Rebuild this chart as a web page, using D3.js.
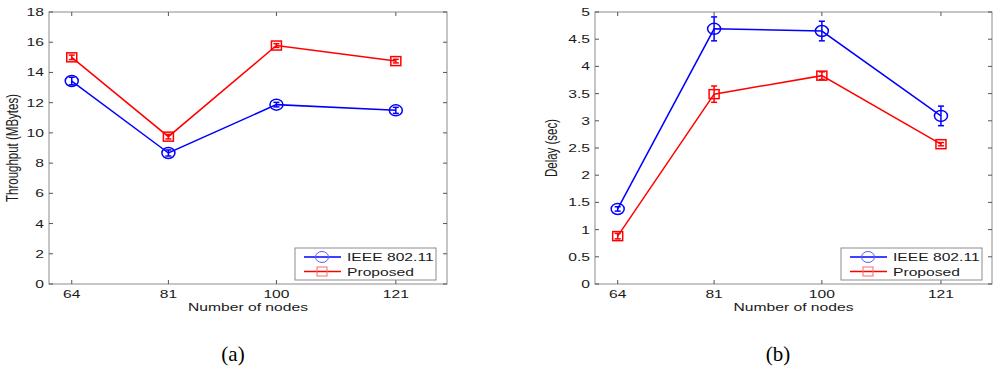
<!DOCTYPE html>
<html>
<head>
<meta charset="utf-8">
<script src="https://cdn.jsdelivr.net/npm/d3@7"></script>
<style>
  body { margin: 0; background: #fff; }
  svg text { font-family: "Liberation Sans", Arial, sans-serif; }
</style>
</head>
<body>
<div id="chart"></div>
<script>
// data
var nodes = [64, 81, 100, 121];
var seriesNames = ["IEEE 802.11", "Proposed"];

var throughputIEEE = [13.43, 8.67, 11.87, 11.49];
var throughputIEEEErr = [0.25, 0.2, 0.15, 0.2];
var throughputProp = [15.0, 9.75, 15.78, 14.75];
var throughputPropErr = [0.15, 0.15, 0.12, 0.12];

var delayIEEE = [1.38, 4.69, 4.65, 3.09];
var delayIEEEErr = [0.04, 0.22, 0.18, 0.18];
var delayProp = [0.88, 3.49, 3.83, 2.57];
var delayPropErr = [0.05, 0.15, 0.07, 0.03];

var throughputTicks = [0, 2, 4, 6, 8, 10, 12, 14, 16, 18];
var delayTicks = [0, 0.5, 1, 1.5, 2, 2.5, 3, 3.5, 4, 4.5, 5];

// the original figure is stretched sideways a bit
var stretch = 1.36;
var fontSize = 11.5;

var svg = d3.select("#chart").append("svg")
  .attr("width", 1000)
  .attr("height", 367);

function addText(g, x, y, str, anchor, rotate) {
  var tr = "translate(" + x + "," + y + ") scale(" + stretch + ",1)";
  if (rotate) tr += " rotate(-90)";
  return g.append("text")
    .attr("transform", tr)
    .attr("text-anchor", anchor || "start")
    .attr("font-size", fontSize)
    .attr("fill", "#1a1a1a")
    .text(str);
}

function drawPanel(opt) {
  var x = d3.scaleLinear().domain([60, 130]).range([opt.left, opt.right]);
  var y = d3.scaleLinear().domain(opt.yDomain).range([284, 12]);
  var g = svg.append("g");

  // frame
  g.append("rect")
    .attr("x", opt.left).attr("y", 12)
    .attr("width", opt.right - opt.left).attr("height", 272)
    .attr("fill", "none").attr("stroke", "#8c8c8c").attr("stroke-width", 1);

  // ticks (inward, all sides)
  opt.yTicks.forEach(function(t) {
    g.append("line").attr("x1", opt.left).attr("x2", opt.left + 4)
      .attr("y1", y(t)).attr("y2", y(t)).attr("stroke", "#555");
    g.append("line").attr("x1", opt.right).attr("x2", opt.right - 4)
      .attr("y1", y(t)).attr("y2", y(t)).attr("stroke", "#555");
    addText(g, opt.left - 5, y(t) + 4, t, "end");
  });
  nodes.forEach(function(n) {
    g.append("line").attr("x1", x(n)).attr("x2", x(n))
      .attr("y1", 284).attr("y2", 280).attr("stroke", "#555");
    g.append("line").attr("x1", x(n)).attr("x2", x(n))
      .attr("y1", 12).attr("y2", 16).attr("stroke", "#555");
    addText(g, x(n), 298, n, "middle");
  });

  // axis titles
  addText(g, (opt.left + opt.right) / 2, 311, "Number of nodes", "middle");
  addText(g, opt.yLabelX, 148, opt.yLabel, "middle", true);

  var line = d3.line().x(function(d) { return x(d[0]); }).y(function(d) { return y(d[1]); });

  opt.series.forEach(function(s) {
    var pts = nodes.map(function(n, i) { return [n, s.values[i], s.err[i]]; });
    g.append("path").datum(pts).attr("d", line)
      .attr("fill", "none").attr("stroke", s.color).attr("stroke-width", 1.5);

    // error bars
    pts.forEach(function(p) {
      var cx = x(p[0]), y1 = y(p[1] - p[2]), y2 = y(p[1] + p[2]);
      g.append("line").attr("x1", cx).attr("x2", cx).attr("y1", y1).attr("y2", y2)
        .attr("stroke", s.color).attr("stroke-width", 1.5);
      [y1, y2].forEach(function(yy) {
        g.append("line").attr("x1", cx - 3).attr("x2", cx + 3).attr("y1", yy).attr("y2", yy)
          .attr("stroke", s.color).attr("stroke-width", 1.5);
      });
      drawMarker(g, s.marker, cx, y(p[1]), s.color, 1.5);
    });
  });

  // legend
  var lx = opt.legendX, lw = 141;
  g.append("rect").attr("x", lx).attr("y", 248).attr("width", lw).attr("height", 32)
    .attr("fill", "#fff").attr("stroke", "#8c8c8c");
  opt.series.forEach(function(s, i) {
    var ly = 257 + i * 14.5;
    g.append("line").attr("x1", lx + 9).attr("x2", lx + 46).attr("y1", ly).attr("y2", ly)
      .attr("stroke", s.color).attr("stroke-width", 1.5);
    drawMarker(g, s.marker, lx + 27, ly, s.legendColor, 1);
    addText(g, lx + 52, ly + 4, s.name, "start");
  });

  // caption
  svg.append("text").attr("x", opt.captionX).attr("y", 361)
    .attr("text-anchor", "middle").attr("font-size", 21)
    .style("font-family", "'Liberation Serif', 'Times New Roman', serif")
    .text(opt.caption);
}

function drawMarker(g, type, cx, cy, color, w) {
  if (type === "circle") {
    g.append("ellipse").attr("cx", cx).attr("cy", cy).attr("rx", 6.5).attr("ry", 5.5)
      .attr("fill", "none").attr("stroke", color).attr("stroke-width", w);
  } else {
    g.append("rect").attr("x", cx - 5).attr("y", cy - 4.5).attr("width", 10).attr("height", 9)
      .attr("fill", "none").attr("stroke", color).attr("stroke-width", w);
  }
}

drawPanel({
  left: 49, right: 447, yDomain: [0, 18], yTicks: throughputTicks,
  yLabel: "Throughput (MBytes)", yLabelX: 18, legendX: 295,
  caption: "(a)", captionX: 233,
  series: [
    { name: seriesNames[0], values: throughputIEEE, err: throughputIEEEErr, color: "#0000ff", legendColor: "#5a5aff", marker: "circle" },
    { name: seriesNames[1], values: throughputProp, err: throughputPropErr, color: "#ff0000", legendColor: "#ff6a6a", marker: "square" }
  ]
});

drawPanel({
  left: 595, right: 992, yDomain: [0, 5], yTicks: delayTicks,
  yLabel: "Delay (sec)", yLabelX: 557, legendX: 841,
  caption: "(b)", captionX: 778,
  series: [
    { name: seriesNames[0], values: delayIEEE, err: delayIEEEErr, color: "#0000ff", legendColor: "#5a5aff", marker: "circle" },
    { name: seriesNames[1], values: delayProp, err: delayPropErr, color: "#ff0000", legendColor: "#ff6a6a", marker: "square" }
  ]
});
</script>
</body>
</html>
